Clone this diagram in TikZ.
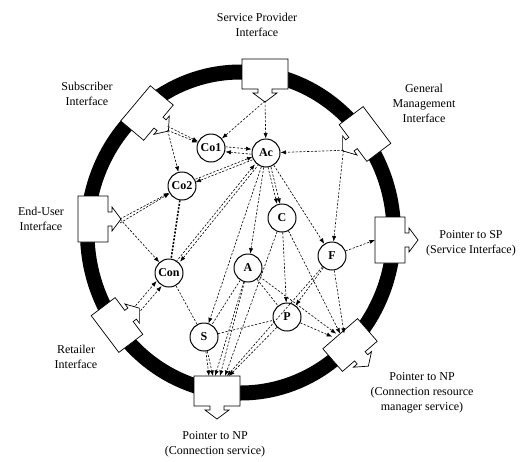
\documentclass[tikz,border=0pt]{standalone}
\usepackage{fontspec}
\setmainfont{Liberation Serif}
\usetikzlibrary{arrows.meta}

\begin{document}
\begin{tikzpicture}[x=1pt, y=-1pt,
    comp/.style={draw, circle, line width=1pt, fill=white, minimum size=28pt, inner sep=0pt, font=\fontsize{12}{12}\selectfont\bfseries},
    dline/.style={dash pattern=on 2.2pt off 1.6pt, line width=.6pt},
    link/.style={dline, -{Latex[length=5.5pt,width=4.2pt]}},
    lbl/.style={align=center, font=\fontsize{12}{15}\selectfont}]
    \useasboundingbox (0,0) rectangle (524,461);
    \fill[even odd rule] (240.5,232.5) ellipse (160.5 and 168) (240.5,232.5) ellipse (146 and 153);

    \foreach \x/\y/\r/\n in {265/74/0/sp, 365/134/-53/gm, 147/113/50/sub, 93/219/90/eu, 117/325/127/ret, 390/240/90/sptr, 350/345/41/crm, 217/391/0/npc}
    {
        \begin{scope}[shift={(\x,\y)}, rotate=\r]
            \draw[fill=white, line width=.7pt] (-23,-15) -- (23,-15) -- (23,15) -- (7,15) -- (7,19) -- (12,19) -- (0,28) -- (-12,19) -- (-7,19) -- (-7,15) -- (-23,15) -- cycle;
            \coordinate (\n) at (0,27);
            \coordinate (\n-b) at (0,-15);
        \end{scope}
    }

    \node[lbl] (splbl) at (257,25) {Service Provider\\Interface};
    \node[lbl] (sublbl) at (87,94) {Subscriber\\Interface};
    \node[lbl] (gmlbl) at (424,103) {General\\Management\\Interface};
    \node[lbl] (eulbl) at (41,219) {End-User\\Interface};
    \node[lbl] (sptrlbl) at (471,243) {Pointer to SP\\(Service Interface)};
    \node[lbl] (retlbl) at (76,357) {Retailer\\Interface};
    \node[lbl] (crmlbl) at (422,393) {Pointer to NP\\(Connection resource\\manager service)};
    \node[lbl] (npclbl) at (215,444) {Pointer to NP\\(Connection service)};

    \node[comp] (co1) at (211,148) {Co1};
    \node[comp] (ac) at (266,153) {Ac};
    \node[comp] (co2) at (182,186) {Co2};
    \node[comp] (c) at (282,218) {C};
    \node[comp] (con) at (169,273) {Con};
    \node[comp] (a) at (248,268) {A};
    \node[comp] (f) at (332,256) {F};
    \node[comp] (p) at (287,317) {P};
    \node[comp] (s) at (204,337) {S};

    \draw[link] (sp) -- (co1);
    \draw[link] (sp) -- (ac);
    \draw[link] (sub) -- (co1);
    \draw[link] ([yshift=4pt]sub) -- (co1);
    \draw[link] (sub) -- (co2);
    \draw[link, transform canvas={yshift=2.5pt}] (co1) -- (ac);
    \draw[link, transform canvas={yshift=-2.5pt}] (ac) -- (co1);
    \draw[link] (gm) -- (ac);
    \draw[link] (gm) -- (f);
    \draw[link, transform canvas={yshift=-1.5pt}] (ac) -- (co2);
    \draw[link, transform canvas={yshift=1.5pt}] (co2) -- (ac);
    \draw[link] (eu) -- (co2);
    \draw[link] ([yshift=-4pt]eu) -- (co2);
    \draw[link] (eu) -- (con);
    \draw[line width=1.6pt, dash pattern=on 2pt off 1.5pt] (co2) -- (con);
    \draw[link, transform canvas={xshift=2pt}] (ac) -- (con);
    \draw[link, transform canvas={xshift=-2pt}] (con) -- (ac);
    \draw[link, transform canvas={xshift=2pt, yshift=-2pt}] (ret) -- (con);
    \draw[link, transform canvas={xshift=-3pt, yshift=3pt}] (ret) -- (con);
    \draw[link, transform canvas={xshift=-1.5pt}] (ac) -- (c);
    \draw[link, transform canvas={xshift=1.5pt}] (ac) -- (c);
    \draw[link] (ac) -- (a);
    \draw[link] (ac) -- (s);
    \draw[link] (ac) -- (f);
    \draw[link] (c) -- (p);
    \draw[link] (c) -- (crm-b);
    \draw[link] (c) -- ([xshift=8pt]npc-b);
    \draw[link] (a) -- ([xshift=-4pt]crm-b);
    \draw[link] (a) -- ([xshift=3pt]npc-b);
    \draw[link] (a) -- ([xshift=-2pt]npc-b);
    \draw[dline] (a) -- (s);
    \draw[dline] (a) -- (p);
    \draw[link] (f) -- (sptr-b);
    \draw[link] (f) -- ([xshift=4pt]crm-b);
    \draw[link] (f) -- (p);
    \draw[link] (f) -- ([xshift=10pt]npc-b);
    \draw[link] (p) -- ([xshift=-8pt, yshift=-3pt]crm-b);
    \draw[link] (p) -- ([xshift=12pt]npc-b);
    \draw[dline] (s) -- (p);
    \draw[link] (s) -- ([xshift=-8pt]npc-b);
    \draw[link] (s) -- ([xshift=-4pt]npc-b);
    \draw[dline] (con) -- (s);
\end{tikzpicture}
\end{document}
